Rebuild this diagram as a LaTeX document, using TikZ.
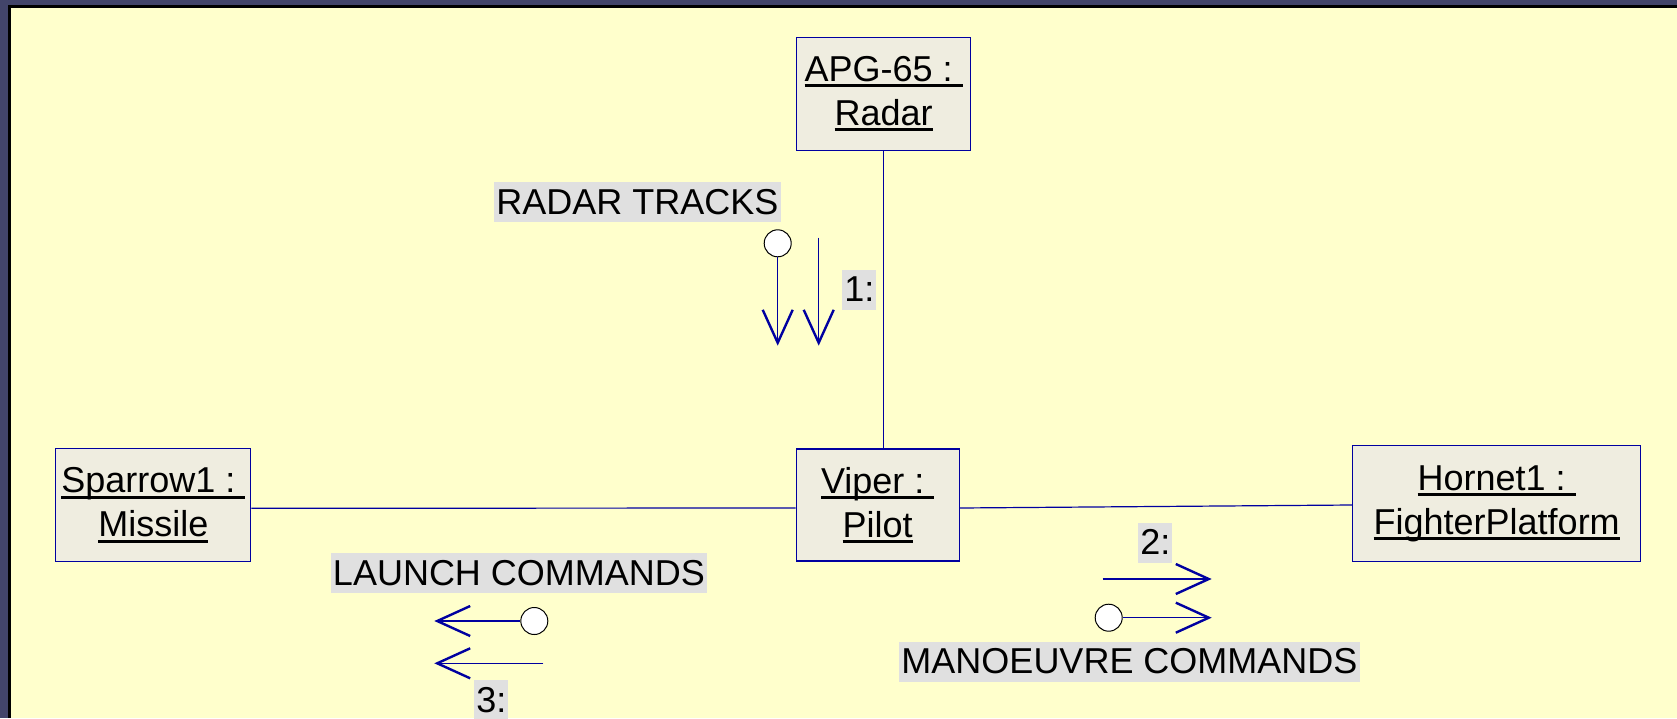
\documentclass[tikz,border=0pt]{standalone}
\usepackage{fontspec}
\setmainfont{Liberation Sans}
\usetikzlibrary{arrows.meta}
\definecolor{umlblue}{HTML}{0000A0}
\definecolor{notebg}{HTML}{FFFFCC}
\definecolor{framebg}{HTML}{42446A}
\definecolor{objfill}{HTML}{EFEDE0}
\definecolor{lblfill}{HTML}{E0E0E0}
\newcommand{\ulobj}[1]{\setbox0\hbox{#1}\rlap{\rule[-2.9pt]{\wd0}{1.4pt}}\box0}

\begin{document}
\begin{tikzpicture}[x=0.5pt, y=-0.5pt, every node/.style={font=\fontsize{18}{22}\selectfont}, >={Straight Barb[length=16.5pt,width=15pt,line width=1.2pt]}, obj/.style={draw=umlblue, line width=0.6pt, fill=objfill, align=center, inner sep=0pt}, lbl/.style={fill=lblfill, inner xsep=1pt, inner ysep=0pt, text height=16pt, text depth=4pt}, ball/.style={circle, draw=black, line width=0.5pt, fill=white, minimum size=13.5pt, inner sep=0pt}, link/.style={draw=umlblue, line width=0.6pt}, msg/.style={->, umlblue, line width=0.6pt}]
	\useasboundingbox (0,0) rectangle (1677,718);
	\fill[framebg] (0,0) rectangle (1677,718);
	\fill[black] (8,5) rectangle (1677,718);
	\fill[notebg] (11,8) rectangle (1677,718);
	\node[obj, minimum width=87pt, minimum height=56.5pt] (R) at (883.7,93.7) {\ulobj{APG-65 :\ }\\\ulobj{Radar}};
	\node[obj, minimum width=81.5pt, minimum height=56pt] (V) at (877.7,505) {\ulobj{Viper :\ }\\\ulobj{Pilot}};
	\node[obj, minimum width=97.5pt, minimum height=56.5pt] (S) at (153.3,505.3) {\ulobj{Sparrow1 :\ }\\\ulobj{Missile}};
	\node[obj, minimum width=144pt, minimum height=58pt] (H) at (1496.7,503.8) {\ulobj{Hornet1 :\ }\\\ulobj{FighterPlatform}};
	\draw[link] (R.south) -- (R.south |- V.north);
	\draw[link] ([yshift=-1.5pt]S.east) -- ([yshift=-1.5pt]V.west);
	\draw[link] ([yshift=-1.5pt]V.east) -- ([yshift=-0.6pt]H.west);
	\node[lbl] (rt) at (637.5,202) {RADAR TRACKS};
	\node[ball] (b1) at (777.7,243.3) {};
	\coordinate (b1e) at (777.7,345.7);
	\draw[msg] (b1) -- (b1e);
	\coordinate (m1s) at (818.7,237.7);
	\coordinate (m1e) at (818.7,345.7);
	\draw[msg] (m1s) -- (m1e);
	\node[lbl] (n1) at (859.3,289.5) {1:\ };
	\node[lbl] (lc) at (519,573.3) {LAUNCH COMMANDS};
	\node[ball] (b3) at (534.3,621) {};
	\coordinate (b3e) at (434.3,621);
	\draw[msg] (b3) -- (b3e);
	\coordinate (m3s) at (543.3,663.3);
	\coordinate (m3e) at (434.3,663.3);
	\draw[msg] (m3s) -- (m3e);
	\node[lbl] (n3) at (491.3,700) {3:\ };
	\node[lbl] (n2) at (1155.3,542.5) {2:\ };
	\coordinate (m2s) at (1102.7,579);
	\coordinate (m2e) at (1211.7,579);
	\draw[msg] (m2s) -- (m2e);
	\node[ball] (b2) at (1108.7,617.7) {};
	\coordinate (b2e) at (1211.7,617.7);
	\draw[msg] (b2) -- (b2e);
	\node[lbl] (mc) at (1129.5,661.7) {MANOEUVRE COMMANDS};
\end{tikzpicture}
\end{document}
